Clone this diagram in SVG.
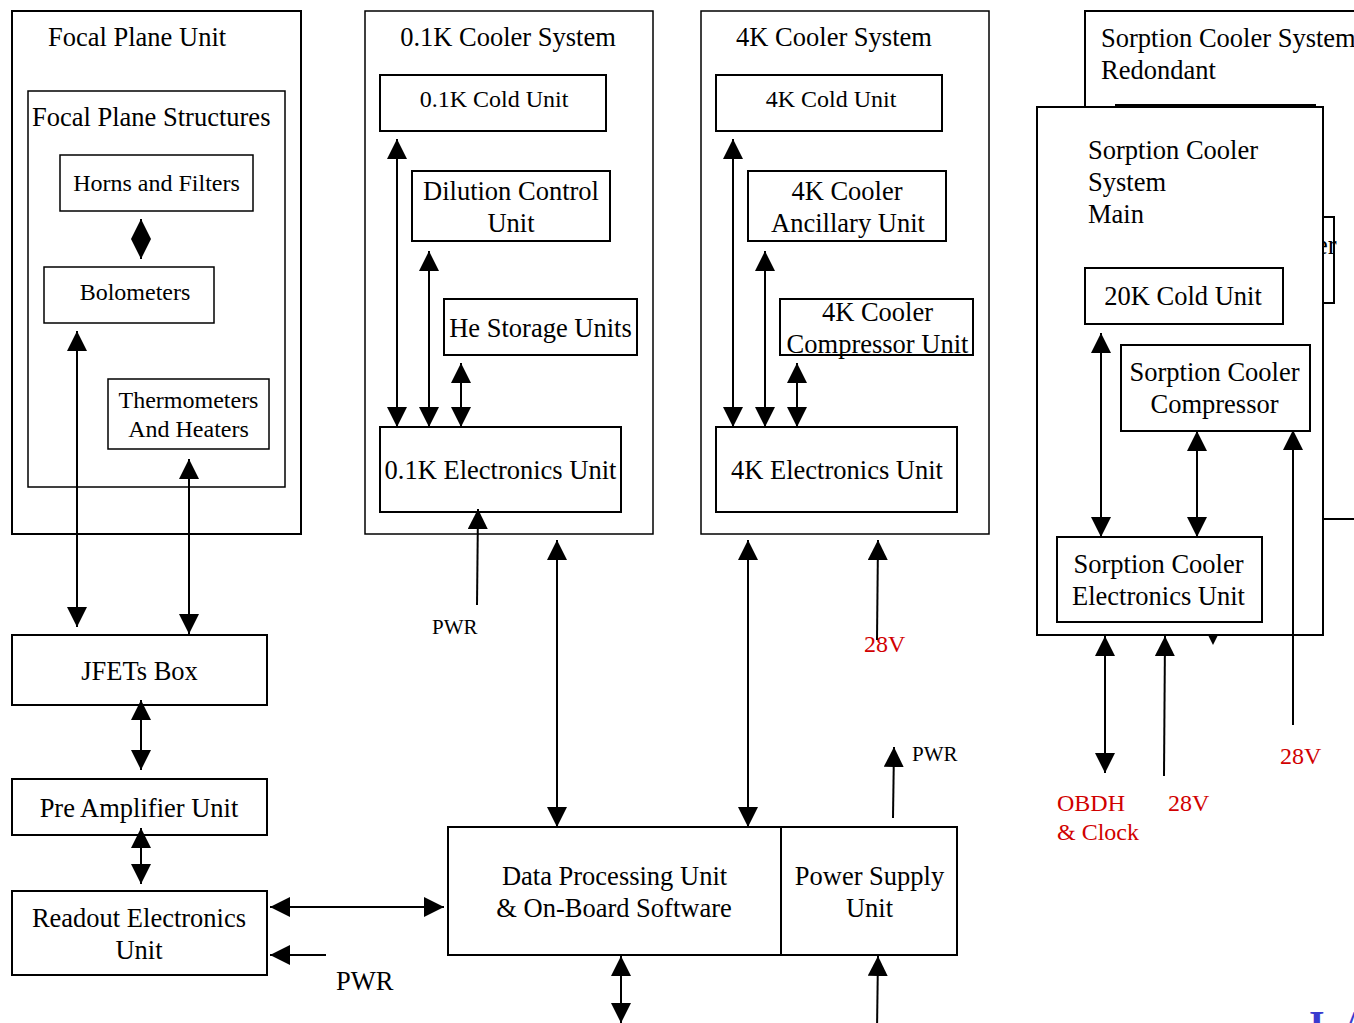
<svg xmlns="http://www.w3.org/2000/svg" width="1354" height="1023" viewBox="0 0 1354 1023">
  <defs>
    <style>
      .box { fill: #fff; stroke: #000; stroke-width: 2; }
      .thin { stroke-width: 1.5; }
      text { font-family: "Liberation Serif", "Times New Roman", serif; fill: #000; }
      .L { font-size: 26.5px; }
      .S { font-size: 24px; }
      .P { font-size: 21px; }
      .m { text-anchor: middle; }
      .red { fill: #d10000; font-size: 24px; }
      .logo { fill: #3a3acf; font-size: 40px; font-weight: bold; }
      #connectors line { stroke: #000; stroke-width: 2; fill: none; }
      .bi { marker-start: url(#ah); marker-end: url(#ah); }
      .uni { marker-end: url(#ah); }
    </style>
    <marker id="ah" viewBox="0 0 20 20" markerWidth="20" markerHeight="20" refX="20" refY="10" markerUnits="userSpaceOnUse" orient="auto-start-reverse">
      <path d="M0,0 L20,10 L0,20 z" fill="#000"/>
    </marker>
  </defs>

  <rect width="1354" height="1023" fill="#fff"/>

  <!-- Focal plane -->
  <g id="focal-plane-unit">
    <rect class="box" x="12" y="11" width="289" height="523"/>
    <text class="L" x="48" y="46">Focal Plane Unit</text>
  </g>
  <g id="focal-plane-structures">
    <rect class="box thin" x="28" y="91" width="257" height="396"/>
    <text class="L" x="32" y="126">Focal Plane Structures</text>
  </g>
  <g id="horns-filters">
    <rect class="box thin" x="60" y="155" width="193" height="56"/>
    <text class="S m" x="156.5" y="191">Horns and Filters</text>
  </g>
  <g id="bolometers">
    <rect class="box thin" x="44" y="267" width="170" height="56"/>
    <text class="S m" x="135" y="300">Bolometers</text>
  </g>
  <g id="thermometers-heaters">
    <rect class="box thin" x="108" y="379" width="161" height="70"/>
    <text class="S m" x="188.5" y="408">Thermometers</text>
    <text class="S m" x="188.5" y="437">And Heaters</text>
  </g>

  <!-- Detector readout chain -->
  <g id="jfets-box">
    <rect class="box" x="12" y="635" width="255" height="70"/>
    <text class="L m" x="139.5" y="680">JFETs Box</text>
  </g>
  <g id="pre-amplifier">
    <rect class="box" x="12" y="779" width="255" height="56"/>
    <text class="L m" x="139" y="817">Pre Amplifier Unit</text>
  </g>
  <g id="readout-electronics">
    <rect class="box" x="12" y="891" width="255" height="84"/>
    <text class="L m" x="139" y="927">Readout Electronics</text>
    <text class="L m" x="139" y="959">Unit</text>
  </g>

  <!-- 0.1K cooler -->
  <g id="cooler-01k-system">
    <rect class="box thin" x="365" y="11" width="288" height="523"/>
    <text class="L m" x="508" y="46">0.1K Cooler System</text>
  </g>
  <g id="cold-unit-01k">
    <rect class="box" x="380" y="75" width="226" height="56"/>
    <text class="S m" x="494" y="107">0.1K Cold Unit</text>
  </g>
  <g id="dilution-control">
    <rect class="box" x="412" y="171" width="198" height="70"/>
    <text class="L m" x="511" y="200">Dilution Control</text>
    <text class="L m" x="511" y="232">Unit</text>
  </g>
  <g id="he-storage">
    <rect class="box" x="444" y="299" width="193" height="56"/>
    <text class="L m" x="540.5" y="337">He Storage Units</text>
  </g>
  <g id="electronics-01k">
    <rect class="box" x="380" y="427" width="241" height="85"/>
    <text class="L m" x="500.5" y="479">0.1K Electronics Unit</text>
  </g>

  <!-- 4K cooler -->
  <g id="cooler-4k-system">
    <rect class="box thin" x="701" y="11" width="288" height="523"/>
    <text class="L m" x="834" y="46">4K Cooler System</text>
  </g>
  <g id="cold-unit-4k">
    <rect class="box" x="716" y="75" width="226" height="56"/>
    <text class="S m" x="831" y="107">4K Cold Unit</text>
  </g>
  <g id="ancillary-4k">
    <rect class="box" x="748" y="171" width="198" height="70"/>
    <text class="L m" x="847" y="200">4K Cooler</text>
    <text class="L m" x="848" y="232">Ancillary Unit</text>
  </g>
  <g id="compressor-4k">
    <rect class="box" x="780" y="299" width="193" height="56"/>
    <text class="L m" x="877.5" y="321">4K Cooler</text>
    <text class="L m" x="877.5" y="353">Compressor Unit</text>
  </g>
  <g id="electronics-4k">
    <rect class="box" x="716" y="427" width="241" height="85"/>
    <text class="L m" x="837" y="479">4K Electronics Unit</text>
  </g>

  <!-- Processing and power -->
  <g id="data-processing">
    <rect class="box" x="448" y="827" width="333" height="128"/>
    <text class="L m" x="614.5" y="885">Data Processing Unit</text>
    <text class="L m" x="614" y="917">&amp; On-Board Software</text>
  </g>
  <g id="power-supply">
    <rect class="box" x="781" y="827" width="176" height="128"/>
    <text class="L m" x="869.5" y="885">Power Supply</text>
    <text class="L m" x="869.5" y="917">Unit</text>
  </g>

  <!-- Sorption cooler, redundant chain (behind the main one) -->
  <g id="sorption-redondant">
    <rect class="box" x="1085" y="11" width="310" height="508"/>
    <text class="L" x="1101" y="47">Sorption Cooler System</text>
    <text class="L" x="1101" y="79">Redondant</text>
    <rect class="box" x="1116" y="105" width="199" height="60" stroke-width="2.5"/>
    <rect class="box" x="1300" y="217" width="34" height="86"/>
    <text class="L" x="1316" y="254">er</text>
  </g>

  <!-- Sorption cooler, main chain -->
  <g id="sorption-main">
    <rect class="box" x="1037" y="107" width="286" height="528"/>
    <text class="L" x="1088" y="159">Sorption Cooler</text>
    <text class="L" x="1088" y="191">System</text>
    <text class="L" x="1088" y="223">Main</text>
  </g>
  <g id="cold-unit-20k">
    <rect class="box" x="1085" y="268" width="198" height="56"/>
    <text class="L m" x="1183" y="305">20K Cold Unit</text>
  </g>
  <g id="sorption-compressor">
    <rect class="box" x="1121" y="345" width="189" height="86"/>
    <text class="L m" x="1214.5" y="381">Sorption Cooler</text>
    <text class="L m" x="1214.5" y="413">Compressor</text>
  </g>
  <g id="sorption-electronics">
    <rect class="box" x="1057" y="537" width="205" height="85"/>
    <text class="L m" x="1158.5" y="573">Sorption Cooler</text>
    <text class="L m" x="1158.5" y="605">Electronics Unit</text>
  </g>

  <!-- External interface labels -->
  <g id="labels">
    <text class="P" x="432" y="634">PWR</text>
    <text class="red" x="864" y="652">28V</text>
    <text class="P" x="912" y="761">PWR</text>
    <text class="L" x="336" y="990">PWR</text>
    <text class="red" x="1280" y="764">28V</text>
    <text class="red" x="1057" y="811">OBDH</text>
    <text class="red" x="1057" y="840">&amp; Clock</text>
    <text class="red" x="1168" y="811">28V</text>
    <text class="logo" x="1309 1342" y="1038">IA</text>
  </g>

  <g id="connectors">
    <!-- focal plane -->
    <line class="bi" x1="141" y1="219" x2="141" y2="259"/>
    <line class="bi" x1="77" y1="331" x2="77" y2="627"/>
    <line class="bi" x1="189" y1="459" x2="189" y2="634"/>
    <!-- readout chain -->
    <line class="bi" x1="141" y1="700" x2="141" y2="770"/>
    <line class="bi" x1="141" y1="828" x2="141" y2="884"/>
    <line class="bi" x1="270" y1="907" x2="444" y2="907"/>
    <line class="uni" x1="326" y1="955" x2="270" y2="955"/>
    <!-- 0.1K cooler -->
    <line class="bi" x1="397" y1="139" x2="397" y2="427"/>
    <line class="bi" x1="429" y1="251" x2="429" y2="427"/>
    <line class="bi" x1="461" y1="363" x2="461" y2="427"/>
    <line class="uni" x1="477" y1="605" x2="478" y2="509"/>
    <!-- 4K cooler -->
    <line class="bi" x1="733" y1="139" x2="733" y2="427"/>
    <line class="bi" x1="765" y1="251" x2="765" y2="427"/>
    <line class="bi" x1="797" y1="363" x2="797" y2="427"/>
    <line class="uni" x1="877" y1="640" x2="878" y2="540"/>
    <!-- to data processing / power supply -->
    <line class="bi" x1="557" y1="540" x2="557" y2="827"/>
    <line class="bi" x1="748" y1="540" x2="748" y2="827"/>
    <line class="uni" x1="893" y1="818" x2="894" y2="747"/>
    <line class="bi" x1="621" y1="956" x2="621" y2="1023"/>
    <line class="uni" x1="877" y1="1030" x2="878" y2="956"/>
    <!-- sorption cooler -->
    <line class="bi" x1="1101" y1="333" x2="1101" y2="537"/>
    <line class="bi" x1="1197" y1="431" x2="1197" y2="537"/>
    <line class="uni" x1="1293" y1="725" x2="1293" y2="430"/>
    <line class="bi" x1="1105" y1="636" x2="1105" y2="773"/>
    <line class="uni" x1="1164" y1="776" x2="1165" y2="636"/>
    <polygon points="1208.5,636 1217.5,636 1213,645" fill="#000"/>
  </g>
</svg>
